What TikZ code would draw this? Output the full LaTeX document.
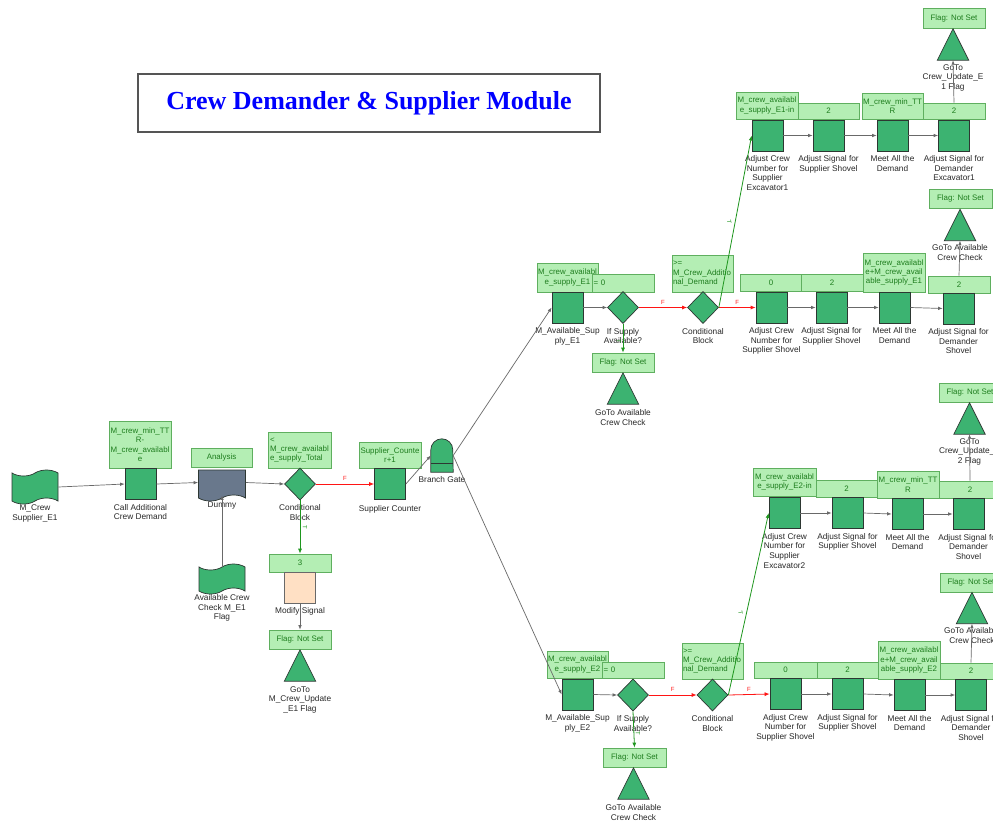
\documentclass[tikz,border=0pt]{standalone}
\usepackage{fontspec}
\setmainfont{Liberation Sans}
\newfontfamily\headfont{Liberation Serif}
\usetikzlibrary{shapes.geometric,shapes.symbols,arrows.meta,positioning,calc}

\definecolor{nodegreen}{RGB}{60,179,113}
\definecolor{lblfill}{RGB}{180,238,180}
\definecolor{lbledge}{RGB}{95,175,95}
\definecolor{lbltext}{RGB}{30,125,30}
\definecolor{edgedark}{RGB}{45,55,50}
\definecolor{linegray}{RGB}{105,105,105}
\definecolor{captext}{RGB}{40,40,40}
\definecolor{slate}{RGB}{105,120,140}
\definecolor{peach}{RGB}{255,224,196}
\definecolor{truegreen}{RGB}{30,150,30}
\definecolor{falsered}{RGB}{255,20,20}
\definecolor{framegray}{RGB}{85,85,85}

% GoTo block: an upward triangle drawn inside a named placeholder node
\newcommand\gotri[2]{%
  \node[minimum width=31pt,minimum height=31pt,inner sep=0pt] (#1) at (#2) {};
  \draw[tridraw] (#1.south west) -- (#1.south east) -- (#1.north) -- cycle;}

\tikzset{
  sq/.style={draw=edgedark, line width=0.7pt, fill=nodegreen, minimum width=31pt, minimum height=31pt, inner sep=0pt},
  dia/.style={diamond, draw=edgedark, line width=0.7pt, fill=nodegreen, minimum width=31pt, minimum height=32pt, inner sep=0pt},
  tridraw/.style={draw=edgedark, line width=0.7pt, fill=nodegreen},
  tapenode/.style={tape, draw=edgedark, line width=0.7pt, fill=nodegreen, minimum width=46pt, minimum height=34pt, inner sep=0pt, tape bend height=6pt},
  lbl/.style={draw=lbledge, line width=0.7pt, fill=lblfill, text=lbltext, align=center, inner sep=0.5pt, font=\fontsize{7.9}{9.4}\selectfont},
  lblleft/.style={lbl, align=left, text width=59pt},
  captxt/.style={align=center, inner sep=0pt, text=captext},
  link/.style={draw=linegray, line width=0.7pt, -{Latex[length=4.5pt,width=3.5pt]}},
  flink/.style={draw=falsered, line width=0.8pt, -{Latex[length=5pt,width=4pt]}},
  tlink/.style={draw=truegreen, line width=0.8pt, -{Latex[length=5pt,width=4pt]}},
  flab/.style={text=falsered, font=\fontsize{6}{6}\selectfont, inner sep=1pt},
  tlab/.style={text=truegreen, font=\fontsize{6}{6}\selectfont, inner sep=1pt}
}

\begin{document}
\begin{tikzpicture}[x=1pt, y=-1pt, font=\fontsize{8.3}{9.7}\selectfont]
\fill[white] (0,0) rectangle (993,822);
\useasboundingbox (0,0) rectangle (993,822);

% ---------- title ----------
\node[draw=framegray, line width=1.4pt, fill=white, minimum width=462pt, minimum height=58pt,
      text=blue, font=\headfont\bfseries\fontsize{26}{30}\selectfont] (title) at (369,103)
  {Crew Demander \& Supplier Module};

% ---------- supplier entry ----------
\node[tapenode] (mcrew) at (35,487) {};
\node[captxt, below=3pt of mcrew] (mcrewc) {M\_Crew\\Supplier\_E1};

\node[lbl, minimum width=62pt, minimum height=47pt] (calllbl) at (140,444.5)
  {M\_crew\_min\_TT\\R-\\M\_crew\_availabl\\e};
\node[sq] (call) at (140.5,484) {};
\node[captxt, below=4pt of call] (callc) {Call Additional\\Crew Demand};

\node[lbl, minimum width=61pt, minimum height=19pt] (analysis) at (221.5,457.5) {Analysis};
\node[tape, tape bend top=none, draw=edgedark, line width=0.7pt, fill=slate,
      minimum width=47pt, minimum height=31pt, inner sep=0pt, tape bend height=6pt] (dummy) at (222,482.5) {};
\node[captxt, below=6pt of dummy] (dummyc) {Dummy};

\node[tapenode, minimum height=30pt] (avail) at (222,579) {};
\node[captxt, below=3pt of avail] (availc) {Available Crew\\Check M\_E1\\Flag};

\node[lblleft, minimum width=63pt, minimum height=36pt] (condlbl) at (299.5,450)
  {<\\M\_crew\_availabl\\e\_supply\_Total};
\node[dia] (cond) at (300,484) {};
\node[captxt, below=4pt of cond] (condc) {Conditional\\Block};

\node[lbl, minimum width=62pt, minimum height=26pt] (supplbl) at (390,455) {Supplier\_Counte\\r+1};
\node[sq] (supp) at (390,484) {};
\node[captxt, below=5pt of supp] (suppc) {Supplier Counter};

\node[minimum width=22pt, minimum height=33pt, inner sep=0pt] (gate) at (442,455.5) {};
\draw[draw=edgedark, line width=0.7pt, fill=nodegreen] (gate.south west)
  -- ($(gate.north west)+(0,11)$) arc[start angle=180, end angle=0, radius=11pt]
  -- (gate.south east) -- cycle;
\draw[draw=edgedark, line width=0.7pt] ($(gate.south west)+(0,-9)$) -- ($(gate.south east)+(0,-9)$);
\node[captxt, below=4pt of gate] (gatec) {Branch Gate};

\node[lbl, minimum width=62pt, minimum height=18pt] (three) at (300,563) {3};
\node[sq, fill=peach, draw=linegray] (modify) at (300,587.5) {};
\node[captxt, below=4pt of modify] (modifyc) {Modify Signal};
\node[lbl, minimum width=62pt, minimum height=19pt] (flag0) at (300,639.5) {Flag: Not Set};
\gotri{tri0}{300,665.5}
\node[captxt, below=5pt of tri0] (tri0c) {GoTo\\M\_Crew\_Update\\\_E1 Flag};

% ---------- branch E1 ----------
\node[lbl, minimum width=61pt, minimum height=29pt] (e1lbl) at (567.5,277.5) {M\_crew\_availabl\\e\_supply\_E1};
\node[lblleft, minimum width=62pt, minimum height=18pt] (eq0a) at (623,283) {= 0};
\node[sq] (avs1) at (567.5,307.5) {};
\node[captxt, below=4pt of avs1] (avs1c) {M\_Available\_Sup\\ply\_E1};
\node[dia] (ifs1) at (623,307.5) {};
\node[captxt, below=4pt of ifs1] (ifs1c) {If Supply\\Available?};
\node[lbl, minimum width=62pt, minimum height=19pt] (flag1) at (623,362.5) {Flag: Not Set};
\gotri{tri1}{623,388.5}
\node[captxt, below=5pt of tri1] (tri1c) {GoTo Available\\Crew Check};

\node[lblleft, minimum width=61pt, minimum height=37pt] (ge1) at (702.5,273.5) {>=\\M\_Crew\_Additio\\nal\_Demand};
\node[dia] (cb1) at (703,307.5) {};
\node[captxt, below=4pt of cb1] (cb1c) {Conditional\\Block};

\node[lbl, minimum width=62pt, minimum height=17pt] (zero1) at (771,282.5) {0};
\node[lbl, minimum width=62pt, minimum height=17pt] (two1) at (832,282.5) {2};
\node[lbl, minimum width=62pt, minimum height=39pt] (sum1) at (894,272.5) {M\_crew\_availabl\\e+M\_crew\_avail\\able\_supply\_E1};
\node[lbl, minimum width=62pt, minimum height=17pt] (two1b) at (959,284.5) {2};
\node[sq] (as1a) at (771.5,307.5) {};
\node[sq] (as1b) at (831.5,307.5) {};
\node[sq] (as1c) at (894.5,307.5) {};
\node[sq] (as1d) at (958.5,308.5) {};
\node[captxt, below=4pt of as1a] (as1ac) {Adjust Crew\\Number for\\Supplier Shovel};
\node[captxt, below=4pt of as1b] (as1bc) {Adjust Signal for\\Supplier Shovel};
\node[captxt, below=4pt of as1c] (as1cc) {Meet All the\\Demand};
\node[captxt, below=4pt of as1d] (as1dc) {Adjust Signal for\\Demander\\Shovel};
\node[lbl, minimum width=63pt, minimum height=19pt] (flag1b) at (960.5,198.5) {Flag: Not Set};
\gotri{tri1b}{960,225}
\node[captxt, below=4pt of tri1b] (tri1bc) {GoTo Available\\Crew Check};

% excavator 1 row
\node[lbl, minimum width=62pt, minimum height=27pt] (inlbl1) at (767,105.5) {M\_crew\_availabl\\e\_supply\_E1-in};
\node[lbl, minimum width=61pt, minimum height=16pt] (two2a) at (828.5,111) {2};
\node[lbl, minimum width=61pt, minimum height=26pt] (ttr1) at (892.5,106) {M\_crew\_min\_TT\\R};
\node[lbl, minimum width=62pt, minimum height=16pt] (two2b) at (954,111) {2};
\node[sq] (ex1a) at (767.5,135.5) {};
\node[sq] (ex1b) at (828.5,135.5) {};
\node[sq] (ex1c) at (892.5,135.5) {};
\node[sq] (ex1d) at (954,135.5) {};
\node[captxt, below=4pt of ex1a] (ex1ac) {Adjust Crew\\Number for\\Supplier\\Excavator1};
\node[captxt, below=4pt of ex1b] (ex1bc) {Adjust Signal for\\Supplier Shovel};
\node[captxt, below=4pt of ex1c] (ex1cc) {Meet All the\\Demand};
\node[captxt, below=4pt of ex1d] (ex1dc) {Adjust Signal for\\Demander\\Excavator1};
\node[lbl, minimum width=62pt, minimum height=20pt] (flag2) at (954,18) {Flag: Not Set};
\gotri{tri2}{953,44.5}
\node[captxt, below=4pt of tri2] (tri2c) {GoTo\\Crew\_Update\_E\\1 Flag};

% ---------- branch E2 ----------
\node[lbl, minimum width=61pt, minimum height=27pt] (e2lbl) at (577.5,664.5) {M\_crew\_availabl\\e\_supply\_E2};
\node[lblleft, minimum width=62pt, minimum height=16pt] (eq0b) at (633,670) {= 0};
\node[sq] (avs2) at (577.5,694.5) {};
\node[captxt, below=4pt of avs2] (avs2c) {M\_Available\_Sup\\ply\_E2};
\node[dia] (ifs2) at (633,695) {};
\node[captxt, below=4pt of ifs2] (ifs2c) {If Supply\\Available?};
\node[lbl, minimum width=63pt, minimum height=19pt] (flag3) at (634.5,757.5) {Flag: Not Set};
\gotri{tri3}{633.5,783.5}
\node[captxt, below=5pt of tri3] (tri3c) {GoTo Available\\Crew Check};

\node[lblleft, minimum width=61pt, minimum height=36pt] (ge2) at (712.5,661) {>=\\M\_Crew\_Additio\\nal\_Demand};
\node[dia] (cb2) at (712.5,695) {};
\node[captxt, below=4pt of cb2] (cb2c) {Conditional\\Block};

\node[lbl, minimum width=63pt, minimum height=16pt] (zero2) at (785.5,670) {0};
\node[lbl, minimum width=61pt, minimum height=16pt] (two3) at (847.5,670) {2};
\node[lbl, minimum width=62pt, minimum height=38pt] (sum2) at (909,660) {M\_crew\_availabl\\e+M\_crew\_avail\\able\_supply\_E2};
\node[lbl, minimum width=62pt, minimum height=16pt] (two3b) at (971,671) {2};
\node[sq] (as2a) at (785.5,694) {};
\node[sq] (as2b) at (847.5,694) {};
\node[sq] (as2c) at (909.5,695) {};
\node[sq] (as2d) at (971,695) {};
\node[captxt, below=4pt of as2a] (as2ac) {Adjust Crew\\Number for\\Supplier Shovel};
\node[captxt, below=4pt of as2b] (as2bc) {Adjust Signal for\\Supplier Shovel};
\node[captxt, below=4pt of as2c] (as2cc) {Meet All the\\Demand};
\node[captxt, below=4pt of as2d] (as2dc) {Adjust Signal for\\Demander\\Shovel};
\node[lbl, minimum width=62pt, minimum height=19pt] (flag3b) at (971,582.5) {Flag: Not Set};
\gotri{tri3b}{972,608}
\node[captxt, below=4pt of tri3b] (tri3bc) {GoTo Available\\Crew Check};

% excavator 2 row
\node[lbl, minimum width=63pt, minimum height=28pt] (inlbl2) at (784.5,482) {M\_crew\_availabl\\e\_supply\_E2-in};
\node[lbl, minimum width=61pt, minimum height=17pt] (two4a) at (846.5,488.5) {2};
\node[lbl, minimum width=62pt, minimum height=27pt] (ttr2) at (908,484.5) {M\_crew\_min\_TT\\R};
\node[lbl, minimum width=62pt, minimum height=17pt] (two4b) at (970,489.5) {2};
\node[sq] (ex2a) at (784.5,513) {};
\node[sq] (ex2b) at (847.5,513) {};
\node[sq] (ex2c) at (907.5,514) {};
\node[sq] (ex2d) at (968.5,514) {};
\node[captxt, below=4pt of ex2a] (ex2ac) {Adjust Crew\\Number for\\Supplier\\Excavator2};
\node[captxt, below=4pt of ex2b] (ex2bc) {Adjust Signal for\\Supplier Shovel};
\node[captxt, below=4pt of ex2c] (ex2cc) {Meet All the\\Demand};
\node[captxt, below=4pt of ex2d] (ex2dc) {Adjust Signal for\\Demander\\Shovel};
\node[lbl, minimum width=62pt, minimum height=19pt] (flag4) at (970,392.5) {Flag: Not Set};
\gotri{tri4}{969.5,418.5}
\node[captxt, below=4pt of tri4] (tri4c) {GoTo\\Crew\_Update\_E\\2 Flag};

% ---------- connectors ----------
\draw[link] (mcrew.east) -- (call.west);
\draw[link] (call.east) -- (dummy.west);
\draw[link] (avail.north) -- (dummy.south);
\draw[link] (dummy.east) -- (cond.west);
\draw[flink] (cond.east) -- node[flab, above=2pt] {F} (supp.west);
\draw[tlink] (cond.south) -- node[tlab, xshift=5pt, rotate=-90] {T} (three.north);
\draw[link] (modify.south) -- (flag0.north);
\draw[link] (supp.east) -- (gate.west);
\draw[link] (gate.east) -- (avs1.west);
\draw[link] (gate.east) -- (avs2.west);

\draw[link] (avs1.east) -- (ifs1.west);
\draw[flink] (ifs1.east) -- node[flab, above=2pt] {F} (cb1.west);
\draw[tlink] (ifs1.south) -- node[tlab, pos=0.6, xshift=-4pt, rotate=-90] {T} (flag1.north);
\draw[flink] (cb1.east) -- node[flab, above=2pt] {F} (as1a.west);
\draw[tlink] (cb1.east) -- node[tlab, xshift=-6pt, rotate=-80] {T} (ex1a.west);
\draw[link] (as1a.east) -- (as1b.west);
\draw[link] (as1b.east) -- (as1c.west);
\draw[link] (as1c.east) -- (as1d.west);
\draw[link] (two1b.north) -- (tri1b.south);
\draw[link] (ex1a.east) -- (ex1b.west);
\draw[link] (ex1b.east) -- (ex1c.west);
\draw[link] (ex1c.east) -- (ex1d.west);
\draw[link] (two2b.north) -- (tri2.south);

\draw[link] (avs2.east) -- (ifs2.west);
\draw[flink] (ifs2.east) -- node[flab, above=2pt] {F} (cb2.west);
\draw[tlink] (ifs2.south) -- node[tlab, pos=0.6, xshift=4pt, rotate=-90] {T} (flag3.north);
\draw[flink] (cb2.east) -- node[flab, above=2pt] {F} (as2a.west);
\draw[tlink] (cb2.east) -- node[tlab, pos=0.45, xshift=-6pt, rotate=-78] {T} (ex2a.west);
\draw[link] (as2a.east) -- (as2b.west);
\draw[link] (as2b.east) -- (as2c.west);
\draw[link] (as2c.east) -- (as2d.west);
\draw[link] (two3b.north) -- (tri3b.south);
\draw[link] (ex2a.east) -- (ex2b.west);
\draw[link] (ex2b.east) -- (ex2c.west);
\draw[link] (ex2c.east) -- (ex2d.west);
\draw[link] (two4b.north) -- (tri4.south);
\end{tikzpicture}
\end{document}
